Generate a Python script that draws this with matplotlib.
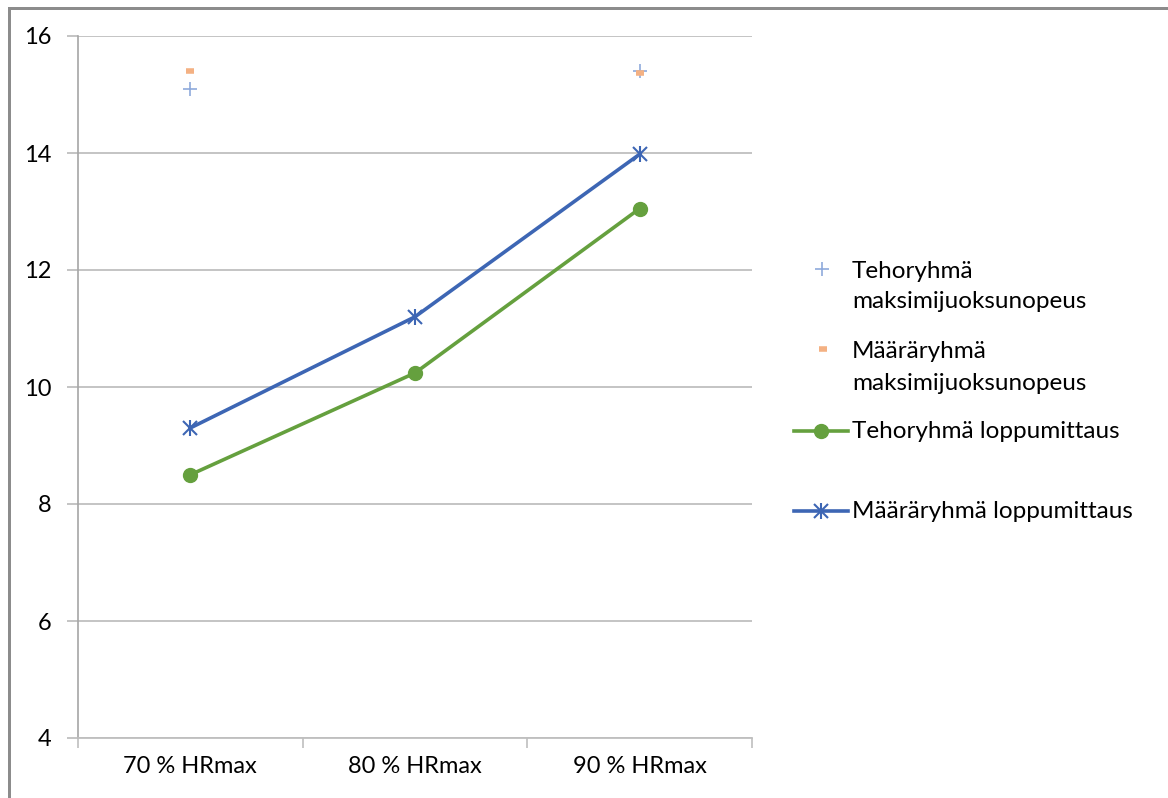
import matplotlib
matplotlib.use("Agg")
import matplotlib.pyplot as plt
from matplotlib.lines import Line2D
from matplotlib.patches import Rectangle

plt.rcParams['font.family'] = ['Lato', 'DejaVu Sans']

kategoriat = ["70 % HRmax", "80 % HRmax", "90 % HRmax"]
teho_max = [15.1, None, 15.4]
maara_max = [15.4, None, 15.37]
teho_loppu = [8.5, 10.24, 13.05]
maara_loppu = [9.3, 11.2, 13.98]

c_teho_max = '#8FAADC'
c_maara_max = '#F4B183'
c_green = '#65A03E'
c_blue = '#3D66B4'
c_grid = '#BFBFBF'

fig = plt.figure(figsize=(11.68, 7.98), dpi=100)
ax = fig.add_axes([78 / 1168, 1 - 738 / 798, (752 - 78) / 1168, (738 - 36) / 798])

x = list(range(len(kategoriat)))

def pisteet(arvot):
    xs = [i for i, v in zip(x, arvot) if v is not None]
    ys = [v for v in arvot if v is not None]
    return xs, ys

xs, ys = pisteet(teho_max)
ax.plot(xs, ys, linestyle='none', marker='+', markersize=10, markeredgewidth=1.2,
        color=c_teho_max, zorder=3)
xs, ys = pisteet(maara_max)
ax.plot(xs, ys, linestyle='none', marker='_', markersize=6, markeredgewidth=4,
        color=c_maara_max, zorder=4)

ax.plot(x, teho_loppu, color=c_green, linewidth=2.6, marker='o', markersize=10,
        zorder=5)
ax.plot(x, maara_loppu, color=c_blue, linewidth=2.6, marker='x', markersize=10,
        markeredgewidth=1.5, zorder=6)
ax.plot(x, maara_loppu, linestyle='none', color=c_blue, marker='|', markersize=12,
        markeredgewidth=1.5, zorder=6)

ax.set_xlim(-0.5, 2.5)
ax.set_ylim(4, 16)
ax.set_yticks(range(4, 17, 2))
ax.yaxis.grid(True, color=c_grid, linewidth=1.3)
ax.set_axisbelow(True)

ax.set_xticks([-0.5, 0.5, 1.5, 2.5])
ax.set_xticklabels([])
ax.set_xticks(x, minor=True)
ax.set_xticklabels(kategoriat, minor=True)
ax.tick_params(axis='x', which='major', length=7, width=1.2, color=c_grid, direction='out')
ax.tick_params(axis='x', which='minor', length=0, pad=13, labelsize=17)
ax.tick_params(axis='y', length=8, width=1.3, color=c_grid, pad=11, labelsize=17)

for s in ['top', 'right']:
    ax.spines[s].set_visible(False)
ax.spines['left'].set_color('#A6A6A6')
ax.spines['left'].set_linewidth(1.2)
ax.spines['bottom'].set_color(c_grid)
ax.spines['bottom'].set_linewidth(1.3)


def fx(px):
    return px / 1168


def fy(py):
    return 1 - py / 798


# kaavion kehys: vasen ja ylä reuna
kehys_vari = '#8C8C8C'
fig.add_artist(Rectangle((fx(8), 0), fx(2.5), fy(7), transform=fig.transFigure,
                         facecolor=kehys_vari, edgecolor='none'))
fig.add_artist(Rectangle((fx(8), fy(9.5)), 1 - fx(8), 2.5 / 798,
                         transform=fig.transFigure, facecolor=kehys_vari,
                         edgecolor='none'))

# selite
tx = fx(852)
fs = 17.5
fig.add_artist(Line2D([fx(822)], [fy(269)], marker='+', markersize=10,
                      markeredgewidth=1.2, color=c_teho_max))
fig.text(tx, fy(271), "Tehoryhmä", fontsize=fs, va='center')
fig.text(tx, fy(302), "maksimijuoksunopeus", fontsize=fs, va='center')

fig.add_artist(Line2D([fx(823)], [fy(349)], marker='_', markersize=6,
                      markeredgewidth=4, color=c_maara_max))
fig.text(tx, fy(352), "Määräryhmä", fontsize=fs, va='center')
fig.text(tx, fy(383), "maksimijuoksunopeus", fontsize=fs, va='center')

fig.add_artist(Line2D([fx(794), fx(848)], [fy(431), fy(431)], color=c_green,
                      linewidth=2.6))
fig.add_artist(Line2D([fx(821)], [fy(431)], color=c_green, marker='o', markersize=10))
fig.text(tx, fy(432), "Tehoryhmä loppumittaus", fontsize=fs, va='center')

fig.add_artist(Line2D([fx(794), fx(848)], [fy(511), fy(511)], color=c_blue,
                      linewidth=2.6))
fig.add_artist(Line2D([fx(821)], [fy(511)], color=c_blue, marker='x', markersize=10,
                      markeredgewidth=1.5))
fig.add_artist(Line2D([fx(821)], [fy(511)], color=c_blue, marker='|', markersize=12,
                      markeredgewidth=1.5))
fig.text(tx, fy(512), "Määräryhmä loppumittaus", fontsize=fs, va='center')

fig.savefig("out.png", dpi=100)
